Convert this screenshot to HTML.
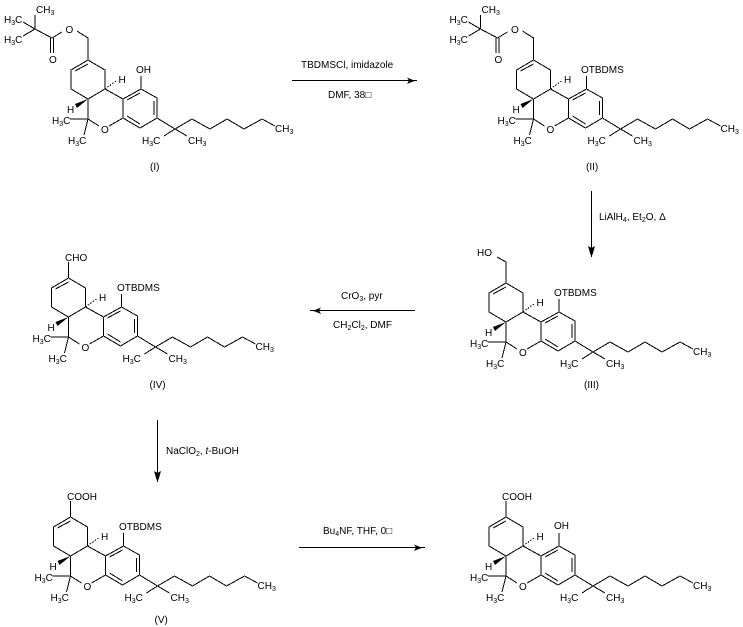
<!DOCTYPE html>
<html><head><meta charset="utf-8"><style>
html,body{margin:0;padding:0;background:#fff}
svg{display:block}
text{font-family:"Liberation Sans",sans-serif;font-size:10px;fill:#000}
.b{stroke:#000;stroke-width:1;fill:none;shape-rendering:crispEdges}
tspan.s{font-size:7px}
</style></head><body>
<svg width="743" height="627" viewBox="0 0 743 627" xmlns="http://www.w3.org/2000/svg">
<defs>
<g id="core">
<path class="b" d="M88 60L105 70L105 89L88 99L71 89L71 70L88 60M75 71L88 64M105 89L123 99L123 118L109 126M99 126L88 119L88 99M123 99L141 89L157 98L157 118L140 128L123 118M127 100L140 93M154 101L154 115M127 116L140 124M141 89L141 76M157 118L175 129L192 119L210 129L227 119L244 129L262 119L275 126M175 129L164 136M175 129L187 136M88 119L70 119M88 119L84 135"/>
<path d="M88 99L75 104L77 108Z" fill="#000"/>
<path class="b" stroke-dasharray="1.500 1.500" d="M105 89L116 81"/>
</g>
<g id="piv">
<path class="b" d="M88 60L88 38L77 31M62 32L52 38M50.500 38L50.500 53M53.500 38L53.500 53M52 38L35 29L35 15M35 29L23 22M35 29L23 36"/>
</g>
</defs>
<use href="#core"/><use href="#piv"/>
<text x="36" y="13">CH<tspan class="s" dy="2">3</tspan></text>
<text x="4" y="23">H<tspan class="s" dy="2">3</tspan><tspan dy="-2">C</tspan></text>
<text x="4" y="43">H<tspan class="s" dy="2">3</tspan><tspan dy="-2">C</tspan></text>
<text x="65.500" y="33">O</text><text x="49" y="63">O</text>
<text x="136" y="73">OH</text><text x="118.500" y="83">H</text><text x="67" y="113">H</text>
<text x="52" y="124">H<tspan class="s" dy="2">3</tspan><tspan dy="-2">C</tspan></text>
<text x="68" y="144">H<tspan class="s" dy="2">3</tspan><tspan dy="-2">C</tspan></text>
<text x="101" y="133">O</text>
<text x="142" y="144">H<tspan class="s" dy="2">3</tspan><tspan dy="-2">C</tspan></text>
<text x="188" y="144">CH<tspan class="s" dy="2">3</tspan></text>
<text x="275" y="132">CH<tspan class="s" dy="2">3</tspan></text>
<text x="150" y="170">(I)</text>

<g transform="translate(445.500,0)"><use href="#core"/><use href="#piv"/>
<text x="36" y="13">CH<tspan class="s" dy="2">3</tspan></text>
<text x="4" y="23">H<tspan class="s" dy="2">3</tspan><tspan dy="-2">C</tspan></text>
<text x="4" y="43">H<tspan class="s" dy="2">3</tspan><tspan dy="-2">C</tspan></text>
<text x="65.500" y="33">O</text><text x="49" y="63">O</text>
<text x="135.500" y="73">OTBDMS</text><text x="118.500" y="83">H</text><text x="67" y="113">H</text>
<text x="52" y="124">H<tspan class="s" dy="2">3</tspan><tspan dy="-2">C</tspan></text>
<text x="68" y="144">H<tspan class="s" dy="2">3</tspan><tspan dy="-2">C</tspan></text>
<text x="101" y="133">O</text>
<text x="142" y="144">H<tspan class="s" dy="2">3</tspan><tspan dy="-2">C</tspan></text>
<text x="188" y="144">CH<tspan class="s" dy="2">3</tspan></text>
<text x="275" y="132">CH<tspan class="s" dy="2">3</tspan></text>
<text x="140.500" y="170">(II)</text></g>

<g transform="translate(418,223)"><use href="#core"/>
<path class="b" d="M88 60L88 39L79 34"/>
<text x="59" y="33">HO</text>
<text x="136" y="73">OTBDMS</text><text x="118.500" y="83">H</text><text x="67" y="113">H</text>
<text x="52" y="124">H<tspan class="s" dy="2">3</tspan><tspan dy="-2">C</tspan></text>
<text x="68" y="144">H<tspan class="s" dy="2">3</tspan><tspan dy="-2">C</tspan></text>
<text x="101" y="133">O</text>
<text x="142" y="144">H<tspan class="s" dy="2">3</tspan><tspan dy="-2">C</tspan></text>
<text x="188" y="144">CH<tspan class="s" dy="2">3</tspan></text>
<text x="275" y="132">CH<tspan class="s" dy="2">3</tspan></text>
<text x="166" y="165">(III)</text></g>

<g transform="translate(-19.500,218)"><use href="#core"/>
<path class="b" d="M88 60L88 44"/>
<text x="84.500" y="43">CHO</text>
<text x="136.500" y="73">OTBDMS</text><text x="118.500" y="83">H</text><text x="67" y="113">H</text>
<text x="52" y="124">H<tspan class="s" dy="2">3</tspan><tspan dy="-2">C</tspan></text>
<text x="68" y="144">H<tspan class="s" dy="2">3</tspan><tspan dy="-2">C</tspan></text>
<text x="101" y="133">O</text>
<text x="142" y="144">H<tspan class="s" dy="2">3</tspan><tspan dy="-2">C</tspan></text>
<text x="188" y="144">CH<tspan class="s" dy="2">3</tspan></text>
<text x="275" y="132">CH<tspan class="s" dy="2">3</tspan></text>
<text x="169" y="170">(IV)</text></g>

<g transform="translate(-17.500,457)"><use href="#core"/>
<path class="b" d="M88 60L88 44"/>
<text x="84.500" y="43">COOH</text>
<text x="136.500" y="73">OTBDMS</text><text x="118.500" y="83">H</text><text x="67" y="113">H</text>
<text x="52" y="124">H<tspan class="s" dy="2">3</tspan><tspan dy="-2">C</tspan></text>
<text x="68" y="144">H<tspan class="s" dy="2">3</tspan><tspan dy="-2">C</tspan></text>
<text x="101" y="133">O</text>
<text x="142" y="144">H<tspan class="s" dy="2">3</tspan><tspan dy="-2">C</tspan></text>
<text x="188" y="144">CH<tspan class="s" dy="2">3</tspan></text>
<text x="275" y="132">CH<tspan class="s" dy="2">3</tspan></text>
<text x="172" y="166">(V)</text></g>

<g transform="translate(418,457)"><use href="#core"/>
<path class="b" d="M88 60L88 44"/>
<text x="84" y="43">COOH</text>
<text x="136" y="72">OH</text><text x="118.500" y="83">H</text><text x="67" y="113">H</text>
<text x="52" y="124">H<tspan class="s" dy="2">3</tspan><tspan dy="-2">C</tspan></text>
<text x="68" y="144">H<tspan class="s" dy="2">3</tspan><tspan dy="-2">C</tspan></text>
<text x="101" y="133">O</text>
<text x="142" y="144">H<tspan class="s" dy="2">3</tspan><tspan dy="-2">C</tspan></text>
<text x="188" y="144">CH<tspan class="s" dy="2">3</tspan></text>
<text x="275" y="132">CH<tspan class="s" dy="2">3</tspan></text>
</g>

<path class="b" d="M292 80.500H417"/><path d="M407 77.500L413 80L417 80.500L413 81.500L407 84L409 80.500Z"/>
<path class="b" d="M591.500 191V257"/><path d="M588 246L591.500 248L595 246L593 253L591.500 257L590 253Z"/>
<path class="b" d="M310 310.500H415"/><path d="M321 307.500L315 310L310 310.500L315 311.500L321 314L319 310.500Z"/>
<path class="b" d="M157.500 420V482"/><path d="M154 471L157.500 473L161 471L159 478L157.500 482L156 478Z"/>
<path class="b" d="M299 547.500H425"/><path d="M414 544.500L420 547L425 547.500L420 548.500L414 551L416 547.500Z"/>

<text x="301" y="68">TBDMSCl, imidazole</text>
<text x="328" y="98">DMF, 38□</text>
<text x="599" y="220">LiAlH<tspan class="s" dy="2">4</tspan><tspan dy="-2">, Et</tspan><tspan class="s" dy="2">2</tspan><tspan dy="-2">O, Δ</tspan></text>
<text x="341" y="299">CrO<tspan class="s" dy="2">3</tspan><tspan dy="-2">, pyr</tspan></text>
<text x="333" y="328">CH<tspan class="s" dy="2">2</tspan><tspan dy="-2">Cl</tspan><tspan class="s" dy="2">2</tspan><tspan dy="-2">, DMF</tspan></text>
<text x="166" y="454">NaClO<tspan class="s" dy="2">2</tspan><tspan dy="-2">, </tspan><tspan font-style="italic">t</tspan>-BuOH</text>
<text x="323" y="534">Bu<tspan class="s" dy="2">4</tspan><tspan dy="-2">NF, THF, 0□</tspan></text>
</svg>
</body></html>
